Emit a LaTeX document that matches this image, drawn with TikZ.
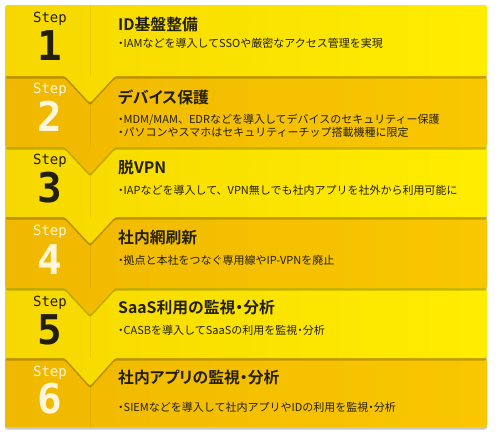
\documentclass[tikz,border=0pt]{standalone}
\usepackage{fontspec}
\setmainfont{Noto Sans CJK JP}[BoldFont={Noto Sans CJK JP Bold}]
\newfontfamily\stepfont{DejaVu Sans Mono}
\newcommand\pdot{{\addfontfeature{RawFeature=+palt}・}}
\usetikzlibrary{shadows}
\definecolor{ylA}{HTML}{F6D800}
\definecolor{ylB}{HTML}{FFED00}
\definecolor{orA}{HTML}{F0B800}
\definecolor{orB}{HTML}{F9C700}
\definecolor{txt}{HTML}{231F10}
\definecolor{wht}{HTML}{FFF6DC}
\tikzset{
  rowyl/.style={left color=ylA, right color=ylB, rounded corners=2.5pt,
    drop shadow={shadow xshift=0pt, shadow yshift=-2.5pt, opacity=0.22, fill=black}},
  rowor/.style={left color=orA, right color=orB, rounded corners=2.5pt,
    drop shadow={shadow xshift=0pt, shadow yshift=-2.5pt, opacity=0.22, fill=black}},
  divider/.style={draw=black, opacity=0.07, line width=0.8pt},
  ttl/.style={anchor=west, inner sep=0pt, text=txt, font=\bfseries\fontsize{15.8}{15.8}\selectfont\addfontfeature{RawFeature=+palt}},
  body/.style={anchor=west, inner sep=0pt, text=txt, font=\fontsize{11}{13}\selectfont, align=left},
  steplbl/.style={anchor=base, inner sep=0pt, font=\stepfont\fontsize{14}{14}\selectfont},
  stepnum/.style={anchor=base, inner sep=0pt, font=\stepfont\bfseries\fontsize{41}{41}\selectfont},
  dark/.style={text=txt},
  light/.style={text=wht}
}
\begin{document}
\begin{tikzpicture}[x=1pt, y=-1pt]
\useasboundingbox (0,0) rectangle (500,442);
\fill[white] (0,0) rectangle (500,442);
% rows drawn bottom-up so each chevron and shadow falls on the row below
\path[rowor] (5,358) -- (487,358) -- (487,427) -- (5,427) -- cycle;
\path[rowyl] (5,288) -- (487,288) -- (487,358) -- (115,358) -- (90,386) -- (65,358) -- (5,358) -- cycle;
\path[rowor] (5,217) -- (487,217) -- (487,288) -- (115,288) -- (90,315) -- (65,288) -- (5,288) -- cycle;
\path[rowyl] (5,147) -- (487,147) -- (487,217) -- (115,217) -- (90,244) -- (65,217) -- (5,217) -- cycle;
\path[rowor] (5,76) -- (487,76) -- (487,147) -- (115,147) -- (90,174) -- (65,147) -- (5,147) -- cycle;
\path[rowyl] (5,5) -- (487,5) -- (487,76) -- (115,76) -- (90,103) -- (65,76) -- (5,76) -- cycle;
% faint column divider
\draw[divider] (90,5) -- (90,76);
\draw[divider] (90,103) -- (90,147);
\draw[divider] (90,174) -- (90,217);
\draw[divider] (90,244) -- (90,288);
\draw[divider] (90,315) -- (90,358);
\draw[divider] (90,386) -- (90,427);
% step labels
\node[steplbl, dark]  (s1) at (50,22) {Step};
\node[stepnum, dark]  (n1) at (50,60) {1};
\node[steplbl, light] (s2) at (50,93) {Step};
\node[stepnum, light] (n2) at (50,131) {2};
\node[steplbl, dark]  (s3) at (50,164) {Step};
\node[stepnum, dark]  (n3) at (50,202) {3};
\node[steplbl, light] (s4) at (50,235) {Step};
\node[stepnum, light] (n4) at (50,274) {4};
\node[steplbl, dark]  (s5) at (50,306) {Step};
\node[stepnum, dark]  (n5) at (50,344) {5};
\node[steplbl, light] (s6) at (50,376) {Step};
\node[stepnum, light] (n6) at (50,413) {6};
% titles and bodies
\node[ttl] (t1) at (118,25) {ID基盤整備};
\node[body] (b1) at (118,43) {\pdot IAMなどを導入してSSOや厳密なアクセス管理を実現};
\node[ttl] (t2) at (118,97) {デバイス保護};
\node[body] (b2) at (118,125.5) {\pdot MDM/MAM、EDRなどを導入してデバイスのセキュリティー保護\\\pdot パソコンやスマホはセキュリティーチップ搭載機種に限定};
\node[ttl] (t3) at (118,168) {脱VPN};
\node[body] (b3) at (118,190) {\pdot IAPなどを導入して、VPN無しでも社内アプリを社外から利用可能に};
\node[ttl] (t4) at (118,238) {社内網刷新};
\node[body] (b4) at (118,260) {\pdot 拠点と本社をつなぐ専用線やIP-VPNを廃止};
\node[ttl] (t5) at (118,308) {SaaS利用の監視・分析};
\node[body] (b5) at (118,330) {\pdot CASBを導入してSaaSの利用を監視\pdot 分析};
\node[ttl] (t6) at (118,378) {社内アプリの監視・分析};
\node[body] (b6) at (118,407) {\pdot SIEMなどを導入して社内アプリやIDの利用を監視\pdot 分析};
\end{tikzpicture}
\end{document}
